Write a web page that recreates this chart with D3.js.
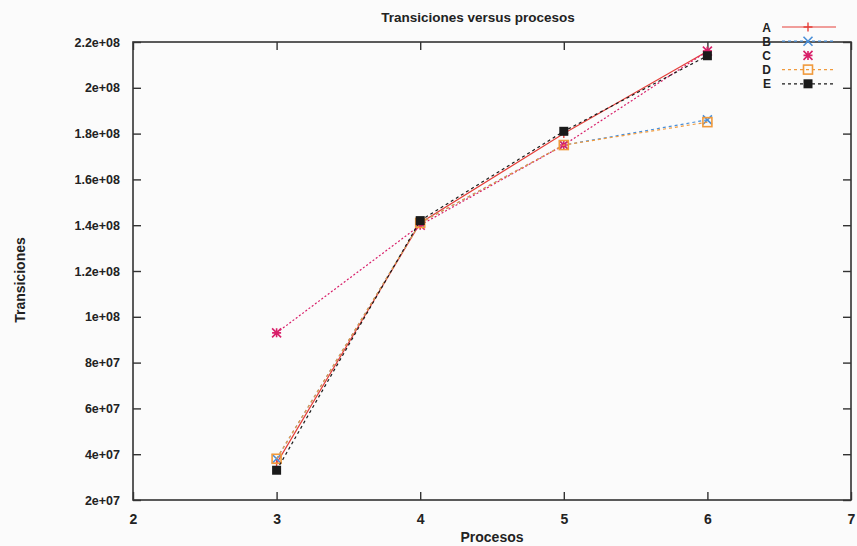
<!DOCTYPE html>
<html>
<head>
<meta charset="utf-8">
<script src="https://cdn.jsdelivr.net/npm/d3@7"></script>
<style>
  body { margin: 0; background: #fbfbfb; }
  text { font-family: "Liberation Sans", Arial, sans-serif; fill: #222; }
</style>
</head>
<body>
<svg width="857" height="546"></svg>
<script>
// procesos on x, transiciones on y
const procesos = [3, 4, 5, 6];
const serieA = [3.6e7, 1.41e8, 1.80e8, 2.16e8];
const serieB = [3.8e7, 1.41e8, 1.75e8, 1.86e8];
const serieC = [9.3e7, 1.40e8, 1.75e8, 2.16e8];
const serieD = [3.8e7, 1.41e8, 1.75e8, 1.85e8];
const serieE = [3.3e7, 1.42e8, 1.81e8, 2.14e8];
const names = ["A", "B", "C", "D", "E"];
const xTicks = [2, 3, 4, 5, 6, 7];
const yTicks = [2e7, 4e7, 6e7, 8e7, 1e8, 1.2e8, 1.4e8, 1.6e8, 1.8e8, 2e8, 2.2e8];
const yLabels = ["2e+07", "4e+07", "6e+07", "8e+07", "1e+08", "1.2e+08", "1.4e+08",
                 "1.6e+08", "1.8e+08", "2e+08", "2.2e+08"];

const series = [
  {name: names[0], values: serieA, color: "#e5403a", dash: null, mark: "plus"},
  {name: names[1], values: serieB, color: "#4a8fd8", dash: "3,3", mark: "cross"},
  {name: names[2], values: serieC, color: "#d8206a", dash: "2,2", mark: "star"},
  {name: names[3], values: serieD, color: "#f09a3c", dash: "3,3", mark: "square"},
  {name: names[4], values: serieE, color: "#1a1a1a", dash: "3,3", mark: "fsquare"}
];

const pLeft = 133, pRight = 851, pTop = 42, pBottom = 500;
const svg = d3.select("svg");
const x = d3.scaleLinear().domain([2, 7]).range([pLeft, pRight]);
const y = d3.scaleLinear().domain([2e7, 2.2e8]).range([pBottom, pTop]);

// frame
svg.append("rect").attr("x", pLeft).attr("y", pTop)
  .attr("width", pRight - pLeft).attr("height", pBottom - pTop)
  .attr("fill", "none").attr("stroke", "#333").attr("stroke-width", 1.6);

// axes with inward ticks, mirrored like gnuplot
const ax = (g, axis) => g.call(axis).call(s => s.select(".domain").remove())
  .call(s => s.selectAll("line").attr("stroke", "#333").attr("stroke-width", 1.4));

const xAxis = ax(svg.append("g").attr("transform", `translate(0,${pBottom})`),
  d3.axisBottom(x).tickValues(xTicks).tickSize(-8).tickPadding(14).tickFormat(d3.format("d")));
ax(svg.append("g").attr("transform", `translate(0,${pTop})`),
  d3.axisTop(x).tickValues(xTicks).tickSize(-8).tickFormat(""));
ax(svg.append("g").attr("transform", `translate(${pLeft},0)`),
  d3.axisLeft(y).tickValues(yTicks).tickSize(-8).tickPadding(13).tickFormat((d, i) => yLabels[i]));
ax(svg.append("g").attr("transform", `translate(${pRight},0)`),
  d3.axisRight(y).tickValues(yTicks).tickSize(-8).tickFormat(""));

svg.selectAll(".tick text").attr("font-size", 12.5).attr("font-weight", "bold").attr("fill", "#222");
xAxis.selectAll(".tick text").attr("font-size", 14);

// titles
svg.append("text").attr("x", 478).attr("y", 22).attr("text-anchor", "middle")
  .attr("font-size", 13.5).attr("font-weight", "bold").text("Transiciones versus procesos");
svg.append("text").attr("x", 492).attr("y", 542).attr("text-anchor", "middle")
  .attr("font-size", 14).attr("font-weight", "bold").text("Procesos");
svg.append("text").attr("transform", "translate(25,280) rotate(-90)").attr("text-anchor", "middle")
  .attr("font-size", 14).attr("font-weight", "bold").text("Transiciones");

function marker(g, kind, cx, cy, color) {
  const s = 4.5;
  if (kind === "plus") {
    g.append("path").attr("d", `M${cx - s},${cy}H${cx + s}M${cx},${cy - s}V${cy + s}`)
      .attr("stroke", color).attr("stroke-width", 1.4);
  } else if (kind === "cross") {
    g.append("path").attr("d", `M${cx - s},${cy - s}L${cx + s},${cy + s}M${cx - s},${cy + s}L${cx + s},${cy - s}`)
      .attr("stroke", color).attr("stroke-width", 1.6);
  } else if (kind === "star") {
    g.append("path").attr("d", `M${cx - s},${cy - s}L${cx + s},${cy + s}M${cx - s},${cy + s}L${cx + s},${cy - s}M${cx - s},${cy}H${cx + s}M${cx},${cy - s}V${cy + s}`)
      .attr("stroke", color).attr("stroke-width", 1.6);
  } else if (kind === "square") {
    g.append("rect").attr("x", cx - s).attr("y", cy - s).attr("width", 2 * s).attr("height", 2 * s)
      .attr("fill", "none").attr("stroke", color).attr("stroke-width", 1.6);
  } else {
    g.append("rect").attr("x", cx - s).attr("y", cy - s).attr("width", 2 * s).attr("height", 2 * s)
      .attr("fill", color);
  }
}

const line = d3.line().x((d, i) => x(procesos[i])).y(d => y(d));

series.forEach(s => {
  const g = svg.append("g");
  g.append("path").attr("d", line(s.values)).attr("fill", "none")
    .attr("stroke", s.color).attr("stroke-width", 1.2)
    .attr("stroke-dasharray", s.dash);
  s.values.forEach((v, i) => marker(g, s.mark, x(procesos[i]), y(v), s.color));
});

// legend
series.forEach((s, i) => {
  const ly = 27 + i * 14.2;
  const g = svg.append("g");
  g.append("text").attr("x", 771).attr("y", ly + 4.5).attr("text-anchor", "end")
    .attr("font-size", 12).attr("font-weight", "bold").text(s.name);
  if (s.mark !== "star") {
    g.append("line").attr("x1", 782).attr("x2", 836).attr("y1", ly).attr("y2", ly)
      .attr("stroke", s.color).attr("stroke-width", 1.2).attr("stroke-dasharray", s.dash);
  }
  marker(g, s.mark, 808, ly, s.color);
});
</script>
</body>
</html>
